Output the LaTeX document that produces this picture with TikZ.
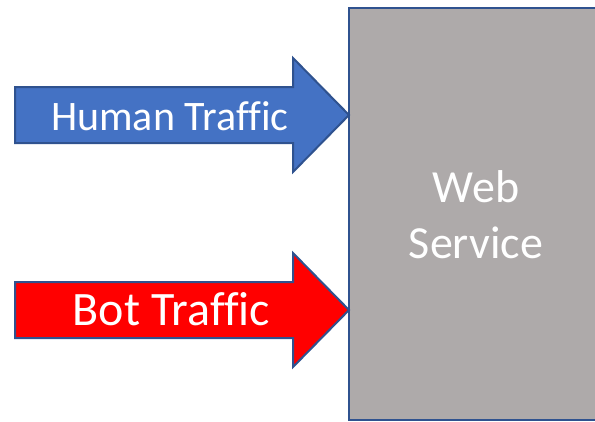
\documentclass[tikz,border=0pt]{standalone}
\usepackage{fontspec}
\setmainfont[Ligatures=CommonOff]{Carlito}
\definecolor{edgeblue}{HTML}{2F528F}
\definecolor{humanblue}{HTML}{4472C4}
\definecolor{servgray}{HTML}{AEAAAA}
\begin{document}
\begin{tikzpicture}[x=1pt,y=-1pt,
  outline/.style={draw=edgeblue,line width=2pt,line join=miter},
  label/.style={text=white,inner sep=0pt,align=center,anchor=base}]
\useasboundingbox (0,0) rectangle (595,421);
% web service block, running past the right edge
\begin{scope}
\clip (0,0) rectangle (595,421);
\draw[outline,fill=servgray] (349,8) rectangle (620,420);
\end{scope}
\node[label,font=\fontsize{46}{56}\selectfont] (svc) at (476,258) {Web\\Service};
% incoming traffic arrows
\coordinate (htip) at (349,115);
\coordinate (btip) at (349,310);
\draw[outline,fill=humanblue] (15,87) -- (293,87) -- (293,58) -- (htip) -- (293,172) -- (293,143) -- (15,143) -- cycle;
\draw[outline,fill=red] (15,282) -- (293,282) -- (293,253) -- (btip) -- (293,367) -- (293,338) -- (15,338) -- cycle;
\node[label,font=\fontsize{42}{50}\selectfont] (human) at (170,130) {Human Traffic};
\node[label,font=\fontsize{48}{56}\selectfont] (bot) at (171.5,325) {Bot Traffic};
\end{tikzpicture}
\end{document}
